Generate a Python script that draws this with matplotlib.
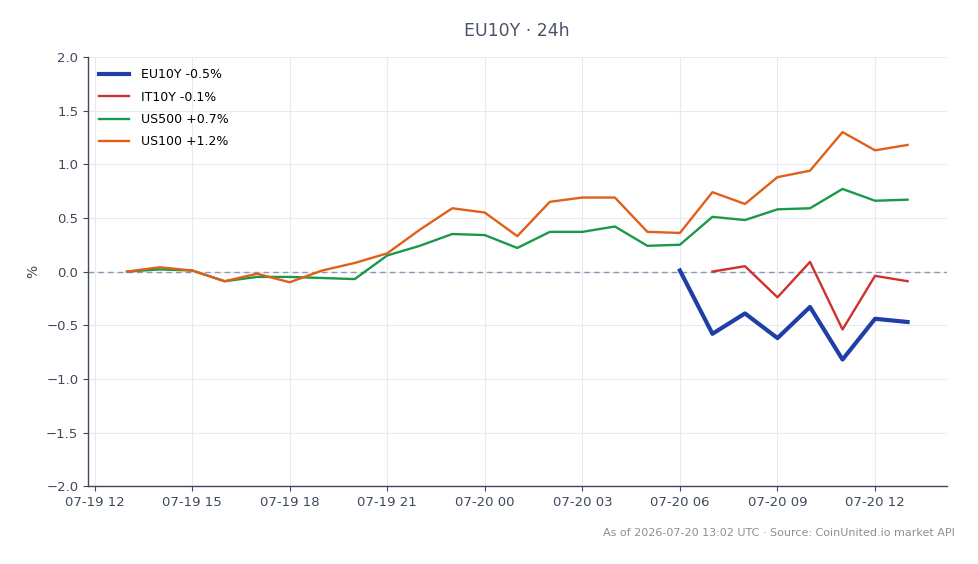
import matplotlib
matplotlib.use("Agg")
import matplotlib.pyplot as plt
import matplotlib.dates as mdates
import pandas as pd

times_all = pd.date_range("2026-07-19 13:00", "2026-07-20 13:00", freq="h")
us500 = [0.0, 0.02, 0.01, -0.09, -0.05, -0.05, -0.06, -0.07, 0.15, 0.24, 0.35, 0.34, 0.22,
         0.37, 0.37, 0.42, 0.24, 0.25, 0.51, 0.48, 0.58, 0.59, 0.77, 0.66, 0.67]
us100 = [0.0, 0.04, 0.01, -0.09, -0.02, -0.10, 0.01, 0.08, 0.17, 0.39, 0.59, 0.55, 0.33,
         0.65, 0.69, 0.69, 0.37, 0.36, 0.74, 0.63, 0.88, 0.94, 1.30, 1.13, 1.18]
times_eu = pd.date_range("2026-07-20 06:00", "2026-07-20 13:00", freq="h")
eu10y = [0.01, -0.58, -0.39, -0.62, -0.33, -0.82, -0.44, -0.47]
times_it = pd.date_range("2026-07-20 07:00", "2026-07-20 13:00", freq="h")
it10y = [0.0, 0.05, -0.24, 0.09, -0.54, -0.04, -0.09]

labels = ["EU10Y -0.5%", "IT10Y -0.1%", "US500 +0.7%", "US100 +1.2%"]
title = "EU10Y · 24h"
footer = "As of 2026-07-20 13:02 UTC · Source: CoinUnited.io market API"

fig = plt.figure(figsize=(9.79, 5.64), dpi=100)
ax = fig.add_axes([0.0899, 0.138, 0.877, 0.761])

ax.plot(times_eu, eu10y, color="#1f3fa6", lw=3.0, label=labels[0], zorder=5)
ax.plot(times_it, it10y, color="#d0302e", lw=1.7, label=labels[1], zorder=4)
ax.plot(times_all, us500, color="#1a9a48", lw=1.7, label=labels[2], zorder=3)
ax.plot(times_all, us100, color="#e0601a", lw=1.7, label=labels[3], zorder=3)
ax.axhline(0, color="#8c97b2", lw=1.0, ls=(0, (4, 3)), zorder=2)

ax.set_ylim(-2.0, 2.0)
ax.set_yticks([-2.0, -1.5, -1.0, -0.5, 0.0, 0.5, 1.0, 1.5, 2.0])
ax.xaxis.set_major_locator(mdates.HourLocator(byhour=[0, 3, 6, 9, 12, 15, 18, 21]))
ax.xaxis.set_major_formatter(mdates.DateFormatter("%m-%d %H"))
ax.set_ylabel("%", color="#3d4a5c", fontsize=10)

ax.grid(True, color="#e8eaef", lw=0.8)
ax.set_axisbelow(True)
for s in ["top", "right"]:
    ax.spines[s].set_visible(False)
for s in ["left", "bottom"]:
    ax.spines[s].set_color("#3d4a5c")
    ax.spines[s].set_linewidth(1.0)
ax.tick_params(colors="#3d4a5c", labelsize=9.5, labelcolor="#3d4a5c")

leg = ax.legend(loc="upper left", frameon=False, fontsize=9, handlelength=2.4,
                handletextpad=0.9, borderaxespad=0.5, labelspacing=0.75,
                bbox_to_anchor=(0.0, 1.0))

fig.text(0.528, 0.945, title, ha="center", va="center", fontsize=12.5, color="#4a5568")
fig.text(0.975, 0.055, footer, ha="right", va="center", fontsize=8, color="#8a8f99")

fig.savefig("out.png", dpi=100, facecolor="white")
